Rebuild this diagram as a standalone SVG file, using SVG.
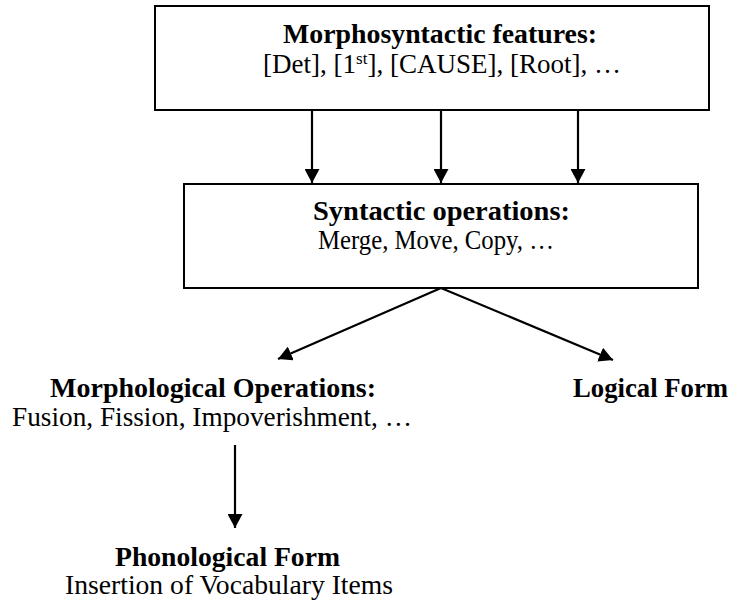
<svg xmlns="http://www.w3.org/2000/svg" width="734" height="604" viewBox="0 0 734 604">
<style>
.box{fill:#fff;stroke:#000;stroke-width:2}
.b{font-family:"Liberation Serif",serif;font-weight:bold;font-size:27px;text-anchor:middle;fill:#000}
.r{font-family:"Liberation Serif",serif;font-size:27px;text-anchor:middle;fill:#000}
.c line{stroke:#000;stroke-width:2.2}
</style>
<defs>
<marker id="ah" viewBox="0 0 14 15" refX="14" refY="7.5" markerWidth="14" markerHeight="15" markerUnits="userSpaceOnUse" orient="auto">
<path d="M0,0 L14,7.5 L0,15 z" fill="#000"/>
</marker>
</defs>
<rect width="734" height="604" fill="#fff"/>
<g id="morphosyntactic">
<rect class="box" x="155" y="6" width="554" height="104"/>
<text class="b" x="440" y="43" textLength="314" lengthAdjust="spacingAndGlyphs">Morphosyntactic features:</text>
<text class="r" x="442" y="73">[Det], [1<tspan font-size="17" dy="-9">st</tspan><tspan dy="9">], [CAUSE], [Root], …</tspan></text>
</g>
<g id="syntactic">
<rect class="box" x="184" y="184" width="514" height="104"/>
<text class="b" x="441.5" y="220" textLength="257" lengthAdjust="spacingAndGlyphs">Syntactic operations:</text>
<text class="r" x="436" y="249" textLength="236" lengthAdjust="spacingAndGlyphs">Merge, Move, Copy, …</text>
</g>
<g id="morphological">
<text class="b" x="213" y="397" textLength="326" lengthAdjust="spacingAndGlyphs">Morphological Operations:</text>
<text class="r" x="212" y="426" textLength="400" lengthAdjust="spacingAndGlyphs">Fusion, Fission, Impoverishment, …</text>
</g>
<g id="logical">
<text class="b" x="650.5" y="397" textLength="155" lengthAdjust="spacingAndGlyphs">Logical Form</text>
</g>
<g id="phonological">
<text class="b" x="227.5" y="566" textLength="225" lengthAdjust="spacingAndGlyphs">Phonological Form</text>
<text class="r" x="229" y="594" textLength="328" lengthAdjust="spacingAndGlyphs">Insertion of Vocabulary Items</text>
</g>
<g class="c" id="connectors">
<line x1="312" y1="110" x2="312" y2="183" marker-end="url(#ah)"/>
<line x1="441" y1="110" x2="441" y2="183" marker-end="url(#ah)"/>
<line x1="578" y1="110" x2="578" y2="183" marker-end="url(#ah)"/>
<line x1="441" y1="288" x2="278" y2="359" marker-end="url(#ah)"/>
<line x1="441" y1="288" x2="613" y2="360" marker-end="url(#ah)"/>
<line x1="235" y1="445" x2="235" y2="528" marker-end="url(#ah)"/>
</g>
</svg>
